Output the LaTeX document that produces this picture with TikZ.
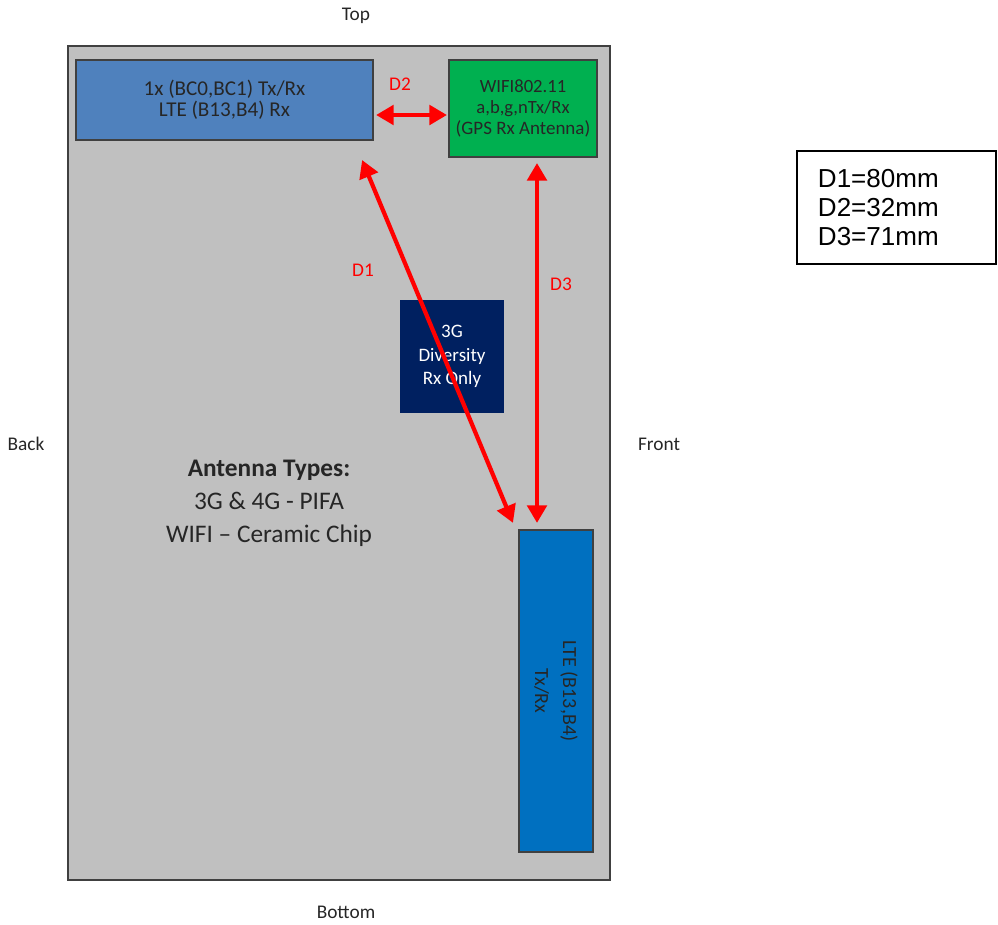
\documentclass[tikz,border=0pt]{standalone}
\usepackage{fontspec}
\setmainfont{Carlito}
\newfontfamily\arialfont{Liberation Sans}
\usetikzlibrary{arrows.meta}
\definecolor{casegray}{HTML}{C0C0C0}
\definecolor{mainblue}{HTML}{4F81BD}
\definecolor{wifigreen}{HTML}{00B050}
\definecolor{divnavy}{HTML}{002060}
\definecolor{ltblue}{HTML}{0070C0}
\begin{document}
\begin{tikzpicture}[x=0.01cm, y=-0.01cm,
  every node/.style={inner sep=0pt, outer sep=0pt},
  antbox/.style={draw=black!75, line width=0.45pt, align=center, text=black!85, font=\fontsize{5.3pt}{6pt}\selectfont},
  dist/.style={red, line width=1.2pt, {Triangle[length=5pt,width=5.5pt]}-{Triangle[length=5pt,width=5.5pt]}},
  distlabel/.style={text=red, font=\fontsize{5.5pt}{6pt}\selectfont},
  sidelabel/.style={text=black!85, font=\fontsize{5.5pt}{6pt}\selectfont}]
  \useasboundingbox (0,0) rectangle (998,924);
  % phone outline
  \node[draw=black!75, line width=0.45pt, fill=casegray, minimum width=5.42cm, minimum height=8.34cm] (phone) at (339,463) {};
  \node[sidelabel] (top) at (356,16) {Top};
  \node[sidelabel] (bottom) at (346,912) {Bottom};
  \node[sidelabel] (back) at (26,444) {Back};
  \node[sidelabel] (front) at (659,444) {Front};
  % antennas
  \node[antbox, fill=mainblue, minimum width=2.97cm, minimum height=0.80cm, font=\fontsize{6pt}{6pt}\selectfont] (main) at (224.5,100) {1x (BC0,BC1) Tx/Rx\\LTE (B13,B4) Rx};
  \node[antbox, fill=wifigreen, minimum width=1.48cm, minimum height=0.97cm] (wifi) at (523,108.5) {WIFI802.11\\a,b,g,nTx/Rx\\{\fontsize{5.4pt}{6pt}\selectfont(GPS Rx Antenna)}};
  \node[antbox, draw=none, fill=divnavy, text=white, minimum width=1.04cm, minimum height=1.13cm, font=\fontsize{5.4pt}{6.6pt}\selectfont] (div) at (452,356.5) {3G\\Diversity\\Rx Only};
  \node[antbox, fill=ltblue, minimum width=0.74cm, minimum height=3.22cm] (lte) at (556,691) {};
  \node[antbox, draw=none, rotate=-90, font=\fontsize{5.7pt}{8pt}\selectfont] (ltetext) at (lte.center) {LTE (B13,B4)\\Tx/Rx};
  % notes
  \node[align=center, text=black!85, font=\fontsize{7.2pt}{9.4pt}\selectfont] (types) at (269,503) {\textbf{Antenna Types:}\\3G \& 4G - PIFA\\WIFI – Ceramic Chip};
  \node[draw, line width=0.45pt, minimum width=1.99cm, minimum height=1.13cm, inner xsep=2.1mm, text width=1.57cm, align=left, font=\arialfont\fontsize{7.4pt}{8.3pt}\selectfont] (legend) at (896.5,207.5) {D1=80mm\\D2=32mm\\D3=71mm};
  % distances
  \draw[dist] ([shift={(3,15)}]main.east) -- ([shift={(-2,6.5)}]wifi.west);
  \draw[dist] ([shift={(-11,20)}]main.south east) -- ([shift={(-6,-7)}]lte.north west);
  \draw[dist] ([shift={(14,6)}]wifi.south) -- ([shift={(-19,-7)}]lte.north);
  \node[distlabel] (dtwo) at (400,84) {D2};
  \node[distlabel] (done) at (363,270) {D1};
  \node[distlabel] (dthree) at (561,284) {D3};
\end{tikzpicture}
\end{document}
